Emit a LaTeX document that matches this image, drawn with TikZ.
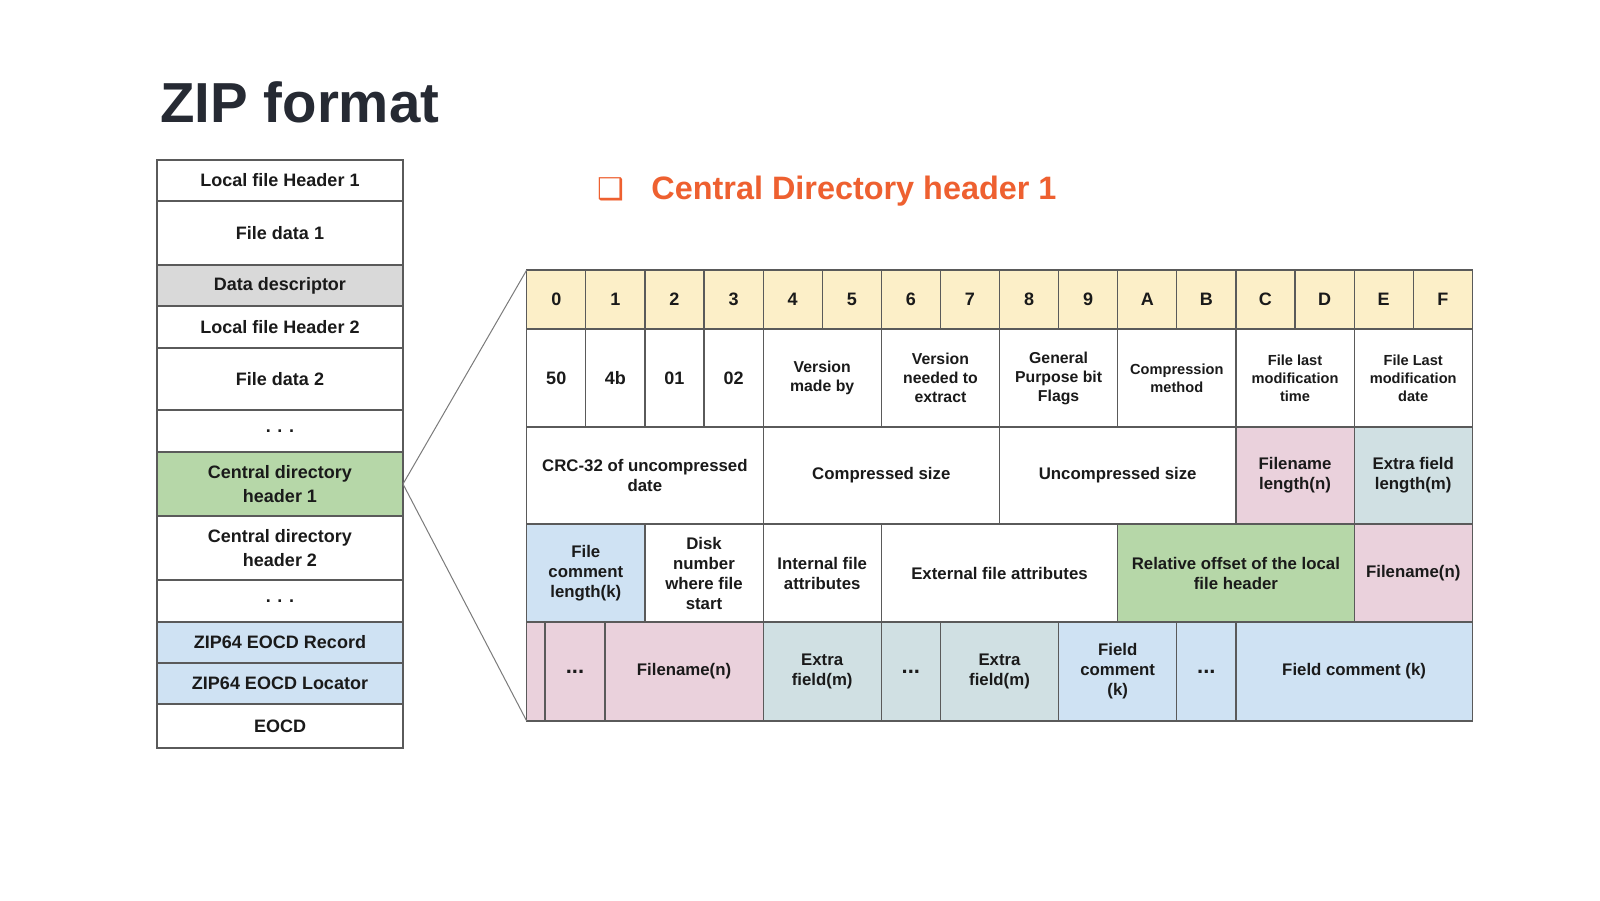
\documentclass[tikz,border=0pt]{standalone}
\usepackage{fontspec}
\setmainfont{Liberation Sans}
\newfontfamily\symfont{DejaVu Sans}
\definecolor{hdrc}{HTML}{FCEFC8}
\definecolor{greenc}{HTML}{B6D7A8}
\definecolor{pinkc}{HTML}{EAD1DC}
\definecolor{grayblue}{HTML}{D0E0E3}
\definecolor{bluec}{HTML}{CFE2F3}
\definecolor{grayc}{HTML}{D9D9D9}
\definecolor{linec}{HTML}{5A5A5A}
\definecolor{ink}{HTML}{1A1A1A}
\definecolor{titlec}{HTML}{262A33}
\definecolor{orng}{HTML}{EE6030}
\newcommand\zcell[7]{%
  \node[box,#6,minimum width={(#4-#2)*0.5pt},minimum height={(#5-#3)*0.5pt}] (#1) at ({(#2+#4)/2},{(#3+#5)/2}) {#7};}
\begin{document}
\begin{tikzpicture}[x=0.5pt,y=-0.5pt,
  box/.style={draw=linec, line width=0.6pt, inner sep=1pt, outer sep=0pt, align=center, text=ink,
    font=\bfseries\fontsize{8.4}{10}\selectfont},
  big/.style={font=\bfseries\fontsize{9}{11}\selectfont},
  small/.style={font=\bfseries\fontsize{7.3}{9}\selectfont},
  mid/.style={font=\bfseries\fontsize{7.9}{9.5}\selectfont},
  stack/.style={font=\bfseries\fontsize{9}{12}\selectfont},
  dots/.style={font=\bfseries\fontsize{11}{12}\selectfont},
  hd/.style={fill=hdrc, big},
  conn/.style={draw=linec!80, line width=0.5pt}]
\useasboundingbox[fill=white] (0,0) rectangle (1600,900);

% titles
\node[anchor=base west, inner sep=0, text=titlec, font=\bfseries\fontsize{28.2}{30}\selectfont] (title) at (160,122) {ZIP format};
\node[anchor=base west, inner sep=0, text=orng, font=\symfont\fontsize{15}{15}\selectfont] (bullet) at (597,199) {❑};
\node[anchor=base west, inner sep=0, text=orng, font=\bfseries\fontsize{16.2}{18}\selectfont] (cdtitle) at (651,199) {Central Directory header 1};

% left stack
\zcell{s1}{157}{160}{403}{201}{stack}{Local file Header 1}
\zcell{s2}{157}{201}{403}{265}{stack}{File data 1}
\zcell{s3}{157}{265}{403}{306}{stack,fill=grayc}{Data descriptor}
\zcell{s4}{157}{306}{403}{348}{stack}{Local file Header 2}
\zcell{s5}{157}{348}{403}{410}{stack}{File data 2}
\zcell{s6}{157}{410}{403}{452}{stack}{. . .}
\zcell{cdh1}{157}{452}{403}{516}{stack,fill=greenc}{Central directory\\header 1}
\zcell{s8}{157}{516}{403}{580}{stack}{Central directory\\header 2}
\zcell{s9}{157}{580}{403}{622}{stack}{. . .}
\zcell{s10}{157}{622}{403}{663}{stack,fill=bluec}{ZIP64 EOCD Record}
\zcell{s11}{157}{663}{403}{704}{stack,fill=bluec}{ZIP64 EOCD Locator}
\zcell{s12}{157}{704}{403}{748}{stack}{EOCD}

% header row
\zcell{h0}{526.7}{270}{585.8}{329}{hd}{0}
\zcell{h1}{585.8}{270}{644.9}{329}{hd}{1}
\zcell{h2}{644.9}{270}{704.0}{329}{hd}{2}
\zcell{h3}{704.0}{270}{763.1}{329}{hd}{3}
\zcell{h4}{763.1}{270}{822.2}{329}{hd}{4}
\zcell{h5}{822.2}{270}{881.3}{329}{hd}{5}
\zcell{h6}{881.3}{270}{940.4}{329}{hd}{6}
\zcell{h7}{940.4}{270}{999.5}{329}{hd}{7}
\zcell{h8}{999.5}{270}{1058.6}{329}{hd}{8}
\zcell{h9}{1058.6}{270}{1117.7}{329}{hd}{9}
\zcell{hA}{1117.7}{270}{1176.8}{329}{hd}{A}
\zcell{hB}{1176.8}{270}{1235.9}{329}{hd}{B}
\zcell{hC}{1235.9}{270}{1295.0}{329}{hd}{C}
\zcell{hD}{1295.0}{270}{1354.1}{329}{hd}{D}
\zcell{hE}{1354.1}{270}{1413.2}{329}{hd}{E}
\zcell{hF}{1413.2}{270}{1472.3}{329}{hd}{F}

% row 2
\zcell{r2a}{526.7}{329}{585.8}{427}{big}{50}
\zcell{r2b}{585.8}{329}{644.9}{427}{big}{4b}
\zcell{r2c}{644.9}{329}{704.0}{427}{big}{01}
\zcell{r2d}{704.0}{329}{763.1}{427}{big}{02}
\zcell{r2e}{763.1}{329}{881.3}{427}{mid}{Version\\made by}
\zcell{r2f}{881.3}{329}{999.5}{427}{mid}{Version\\needed to\\extract}
\zcell{r2g}{999.5}{329}{1117.7}{427}{mid}{General\\Purpose bit\\Flags}
\zcell{r2h}{1117.7}{329}{1235.9}{427}{small}{Compression\\method}
\zcell{r2i}{1235.9}{329}{1354.1}{427}{small}{File last\\modification\\time}
\zcell{r2j}{1354.1}{329}{1472.3}{427}{small}{File Last\\modification\\date}

% row 3
\zcell{r3a}{526.7}{427}{763.1}{524}{}{CRC-32 of uncompressed\\date}
\zcell{r3b}{763.1}{427}{999.5}{524}{}{Compressed size}
\zcell{r3c}{999.5}{427}{1235.9}{524}{}{Uncompressed size}
\zcell{r3d}{1235.9}{427}{1354.1}{524}{fill=pinkc}{Filename\\length(n)}
\zcell{r3e}{1354.1}{427}{1472.3}{524}{fill=grayblue}{Extra field\\length(m)}

% row 4
\zcell{r4a}{526.7}{524}{644.9}{622}{fill=bluec}{File\\comment\\length(k)}
\zcell{r4b}{644.9}{524}{763.1}{622}{}{Disk\\number\\where file\\start}
\zcell{r4c}{763.1}{524}{881.3}{622}{}{Internal file\\attributes}
\zcell{r4d}{881.3}{524}{1117.7}{622}{}{External file attributes}
\zcell{r4e}{1117.7}{524}{1354.1}{622}{fill=greenc}{Relative offset of the local\\file header}
\zcell{r4f}{1354.1}{524}{1472.3}{622}{fill=pinkc}{Filename(n)}

% row 5
\zcell{r5a}{526.7}{622}{545}{721}{fill=pinkc}{}
\zcell{r5b}{545}{622}{605}{721}{fill=pinkc,dots}{...}
\zcell{r5c}{605}{622}{763.1}{721}{fill=pinkc}{Filename(n)}
\zcell{r5d}{763.1}{622}{881.3}{721}{fill=grayblue}{Extra\\field(m)}
\zcell{r5e}{881.3}{622}{940.4}{721}{fill=grayblue,dots}{...}
\zcell{r5f}{940.4}{622}{1058.6}{721}{fill=grayblue}{Extra\\field(m)}
\zcell{r5g}{1058.6}{622}{1176.8}{721}{fill=bluec}{Field\\comment\\(k)}
\zcell{r5h}{1176.8}{622}{1235.9}{721}{fill=bluec,dots}{...}
\zcell{r5i}{1235.9}{622}{1472.3}{721}{fill=bluec}{Field comment (k)}

% zoom connectors
\draw[conn] (cdh1.east) -- (h0.north west);
\draw[conn] (cdh1.east) -- (r5a.south west);
\end{tikzpicture}
\end{document}
